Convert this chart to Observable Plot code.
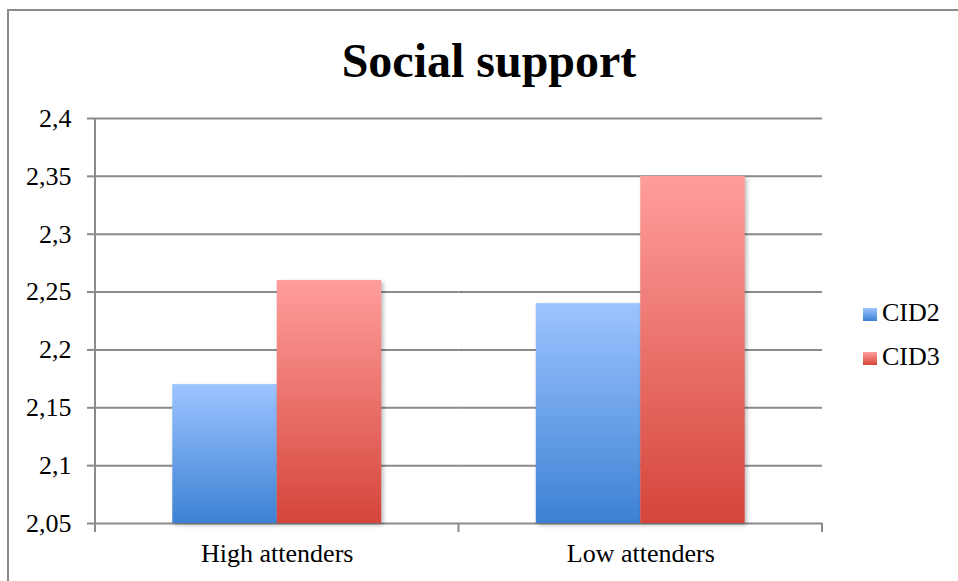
<!DOCTYPE html>
<html>
<head>
<meta charset="utf-8">
<script src="https://cdn.jsdelivr.net/npm/d3@7"></script>
<script src="https://cdn.jsdelivr.net/npm/@observablehq/plot@0.6"></script>
<style>
  body { margin: 0; background: #fff; }
  #chart {
    position: relative; width: 958px; height: 581px; overflow: hidden;
    font-family: "Liberation Serif", "Times New Roman", serif; color: #000;
  }
  #border {
    position: absolute; left: 7px; top: 9px; width: 1000px; height: 700px;
    border-top: 2px solid #8a8a8a; border-left: 2px solid #8a8a8a;
  }
  #title {
    position: absolute; left: 10px; top: 37px; width: 958px;
    text-align: center; font-size: 48px; line-height: 48px; font-weight: bold;
  }
  .legend-item {
    position: absolute; left: 863px; font-size: 26px; line-height: 26px; white-space: nowrap;
    font-family: "Liberation Serif", "Times New Roman", serif;
  }
  .swatch { display: inline-block; width: 14px; height: 13px; margin-right: 5px; }
  #chart svg { position: absolute; left: 0; top: 0; }
  #chart svg text { font-family: "Liberation Serif", "Times New Roman", serif !important; font-size: 26px; }
  g[aria-label="bar"] rect { filter: drop-shadow(2px 2px 2px rgba(0,0,0,0.28)); }
</style>
</head>
<body>
<div id="chart">
  <div id="border"></div>
  <div id="title">Social support</div>
</div>
<script>
// Mean social support scores by attendance group
const groups = ["High attenders", "Low attenders"];
const series = ["CID2", "CID3"];
const cid2 = [2.17, 2.24];
const cid3 = [2.26, 2.35];
const yTicks = [2.05, 2.1, 2.15, 2.2, 2.25, 2.3, 2.35, 2.4];
const gradients = { CID2: ["#9dc4ff", "#3c81d3"], CID3: ["#ff9e9b", "#d5453b"] };
const legendTops = [300, 344];

const values = { CID2: cid2, CID3: cid3 };
const rows = groups.flatMap((g, i) => series.map(s => ({ group: g, series: s, value: values[s][i] })));
const comma = d => String(d).replace(".", ",");
const axisGrey = "#8a8a8a";

const plot = Plot.plot({
  width: 958,
  height: 581,
  marginTop: 118,
  marginBottom: 58,
  marginLeft: 95,
  marginRight: 136,
  style: { fontSize: "26px", color: "#000", background: "transparent" },
  fx: { domain: groups, padding: 0, round: false, label: null },
  x: { domain: series, paddingInner: 0, paddingOuter: 0.74, round: false, axis: null },
  y: { domain: [yTicks[0], yTicks[yTicks.length - 1]] },
  marks: [
    Plot.gridY(yTicks, { stroke: axisGrey, strokeOpacity: 1, strokeWidth: 2 }),
    ...series.map(s => Plot.barY(rows.filter(d => d.series === s), {
      fx: "group", x: "series", y1: yTicks[0], y2: "value", fill: `url(#fill-${s})`
    })),
    Plot.axisY(yTicks, { tickSize: 8, tickPadding: 16, tickFormat: comma, stroke: axisGrey, strokeWidth: 2, fill: "#000", label: null }),
    Plot.axisFx({ anchor: "bottom", tickSize: 0, tickPadding: 20, fill: "#000", label: null })
  ]
});

const svg = d3.select(plot);
const defs = svg.insert("defs", ":first-child");
for (const s of series) {
  const lg = defs.append("linearGradient").attr("id", `fill-${s}`)
    .attr("x1", 0).attr("y1", 0).attr("x2", 0).attr("y2", 1);
  lg.append("stop").attr("offset", "0%").attr("stop-color", gradients[s][0]);
  lg.append("stop").attr("offset", "100%").attr("stop-color", gradients[s][1]);
}

// Value axis line and category boundary ticks, positioned from the plot's scales
const y = plot.scale("y");
const fx = plot.scale("fx");
const y0 = y.apply(yTicks[0]);
const yTop = y.apply(yTicks[yTicks.length - 1]);
const xLeft = fx.apply(groups[0]);
const bounds = groups.map(g => fx.apply(g)).concat(fx.apply(groups[groups.length - 1]) + fx.bandwidth);
const guides = svg.append("g").attr("stroke", axisGrey).attr("stroke-width", 2);
guides.append("line").attr("x1", xLeft).attr("x2", xLeft).attr("y1", yTop).attr("y2", y0 + 9);
for (const bx of bounds) {
  guides.append("line").attr("x1", bx).attr("x2", bx).attr("y1", y0).attr("y2", y0 + 9);
}

const chart = document.getElementById("chart");
chart.appendChild(plot);

series.forEach((s, i) => {
  const item = document.createElement("div");
  item.className = "legend-item";
  item.style.top = legendTops[i] + "px";
  const sw = document.createElement("span");
  sw.className = "swatch";
  sw.style.background = `linear-gradient(${gradients[s][0]}, ${gradients[s][1]})`;
  item.appendChild(sw);
  item.appendChild(document.createTextNode(s));
  chart.appendChild(item);
});
</script>
</body>
</html>
